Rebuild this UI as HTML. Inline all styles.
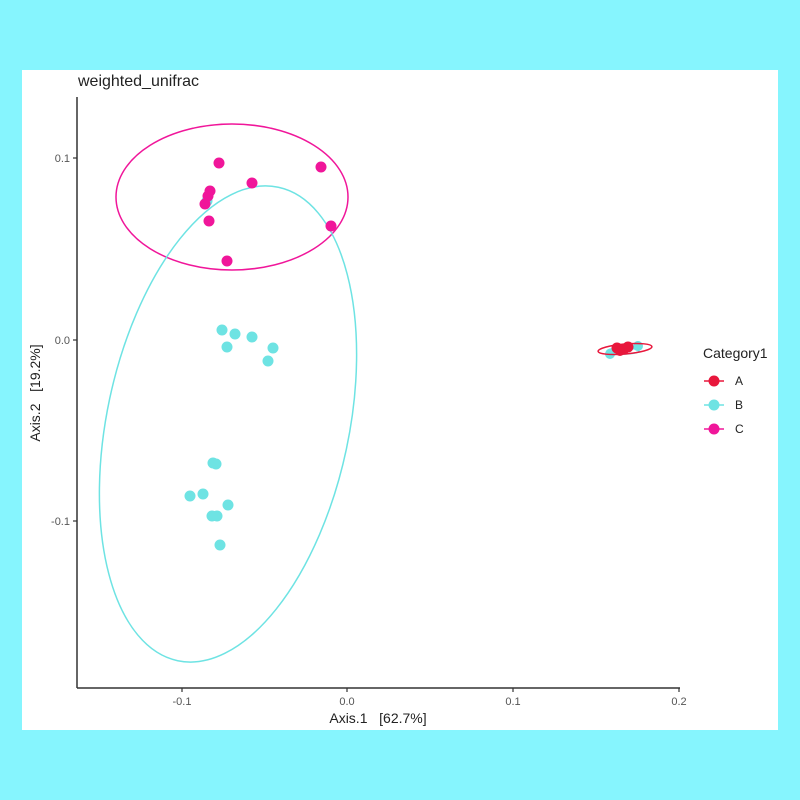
<!DOCTYPE html>
<html><head><style>
body{margin:0;background:#86f5fe;}
svg{display:block;font-family:"Liberation Sans",sans-serif;}
</style></head><body>
<svg width="800" height="800" viewBox="0 0 800 800">
<rect x="0" y="0" width="800" height="800" fill="#86f5fe"/>
<rect x="22" y="70" width="756" height="660" fill="#fff"/>
<text x="78" y="86" font-size="16" fill="#222">weighted_unifrac</text>
<line x1="77" y1="97" x2="77" y2="688" stroke="#333" stroke-width="1.5"/>
<line x1="77" y1="688" x2="680" y2="688" stroke="#333" stroke-width="1.5"/>
<g stroke="#333" stroke-width="1.2">
<line x1="73" y1="158" x2="77" y2="158"/><line x1="73" y1="340" x2="77" y2="340"/><line x1="73" y1="521" x2="77" y2="521"/>
<line x1="182" y1="688" x2="182" y2="692"/><line x1="347" y1="688" x2="347" y2="692"/><line x1="513" y1="688" x2="513" y2="692"/><line x1="679" y1="688" x2="679" y2="692"/>
</g>
<g font-size="11" fill="#555" text-anchor="end">
<text x="70" y="162">0.1</text><text x="70" y="344">0.0</text><text x="70" y="525">-0.1</text>
</g>
<g font-size="11" fill="#555" text-anchor="middle">
<text x="182" y="705">-0.1</text><text x="347" y="705">0.0</text><text x="513" y="705">0.1</text><text x="679" y="705">0.2</text>
</g>
<text x="378" y="723" font-size="14" fill="#222" text-anchor="middle">Axis.1&#160;&#160;&#160;[62.7%]</text>
<text transform="translate(40,393) rotate(-90)" font-size="14" fill="#222" text-anchor="middle">Axis.2&#160;&#160;&#160;[19.2%]</text>
<ellipse cx="232" cy="197" rx="116" ry="73" fill="none" stroke="#f0169a" stroke-width="1.5"/>
<ellipse cx="228" cy="424" rx="121" ry="242" transform="rotate(12 228 424)" fill="none" stroke="#6ee3e3" stroke-width="1.5"/>
<g fill="#6ee3e3">
<circle cx="222" cy="330" r="5.5"/><circle cx="235" cy="334" r="5.5"/><circle cx="252" cy="337" r="5.5"/><circle cx="227" cy="347" r="5.5"/><circle cx="273" cy="348" r="5.5"/><circle cx="268" cy="361" r="5.5"/>
<circle cx="213" cy="463" r="5.5"/><circle cx="216" cy="464" r="5.5"/><circle cx="190" cy="496" r="5.5"/><circle cx="203" cy="494" r="5.5"/><circle cx="212" cy="516" r="5.5"/><circle cx="217" cy="516" r="5.5"/><circle cx="228" cy="505" r="5.5"/><circle cx="220" cy="545" r="5.5"/>
<circle cx="207" cy="201" r="5.5"/>
</g>
<g fill="#f0169a">
<circle cx="219" cy="163" r="5.5"/><circle cx="321" cy="167" r="5.5"/><circle cx="252" cy="183" r="5.5"/><circle cx="210" cy="191" r="5.5"/><circle cx="208" cy="196" r="5.5"/><circle cx="205" cy="204" r="5.5"/><circle cx="209" cy="221" r="5.5"/><circle cx="331" cy="226" r="5.5"/><circle cx="227" cy="261" r="5.5"/>
</g>
<ellipse cx="623" cy="351" rx="16" ry="3" fill="none" stroke="#6ee3e3" stroke-width="1.5"/>
<circle cx="610" cy="354" r="5" fill="#6ee3e3"/><circle cx="638" cy="346" r="5" fill="#6ee3e3"/>
<ellipse cx="625" cy="349" rx="27" ry="5" transform="rotate(-5 625 349)" fill="none" stroke="#e8173c" stroke-width="1.5"/>
<g fill="#e8173c">
<circle cx="617" cy="348" r="5.5"/><circle cx="624" cy="349" r="5.5"/><circle cx="628" cy="347" r="5.5"/><circle cx="620" cy="351" r="5"/>
</g>
<text x="703" y="358" font-size="14" fill="#222">Category1</text>
<line x1="704" y1="381" x2="724" y2="381" stroke="#e8173c" stroke-width="1.5"/><circle cx="714" cy="381" r="5.5" fill="#e8173c"/>
<text x="735" y="385" font-size="12" fill="#222">A</text>
<line x1="704" y1="405" x2="724" y2="405" stroke="#6ee3e3" stroke-width="1.5"/><circle cx="714" cy="405" r="5.5" fill="#6ee3e3"/>
<text x="735" y="409" font-size="12" fill="#222">B</text>
<line x1="704" y1="429" x2="724" y2="429" stroke="#f0169a" stroke-width="1.5"/><circle cx="714" cy="429" r="5.5" fill="#f0169a"/>
<text x="735" y="433" font-size="12" fill="#222">C</text>
</svg>
</body></html>
